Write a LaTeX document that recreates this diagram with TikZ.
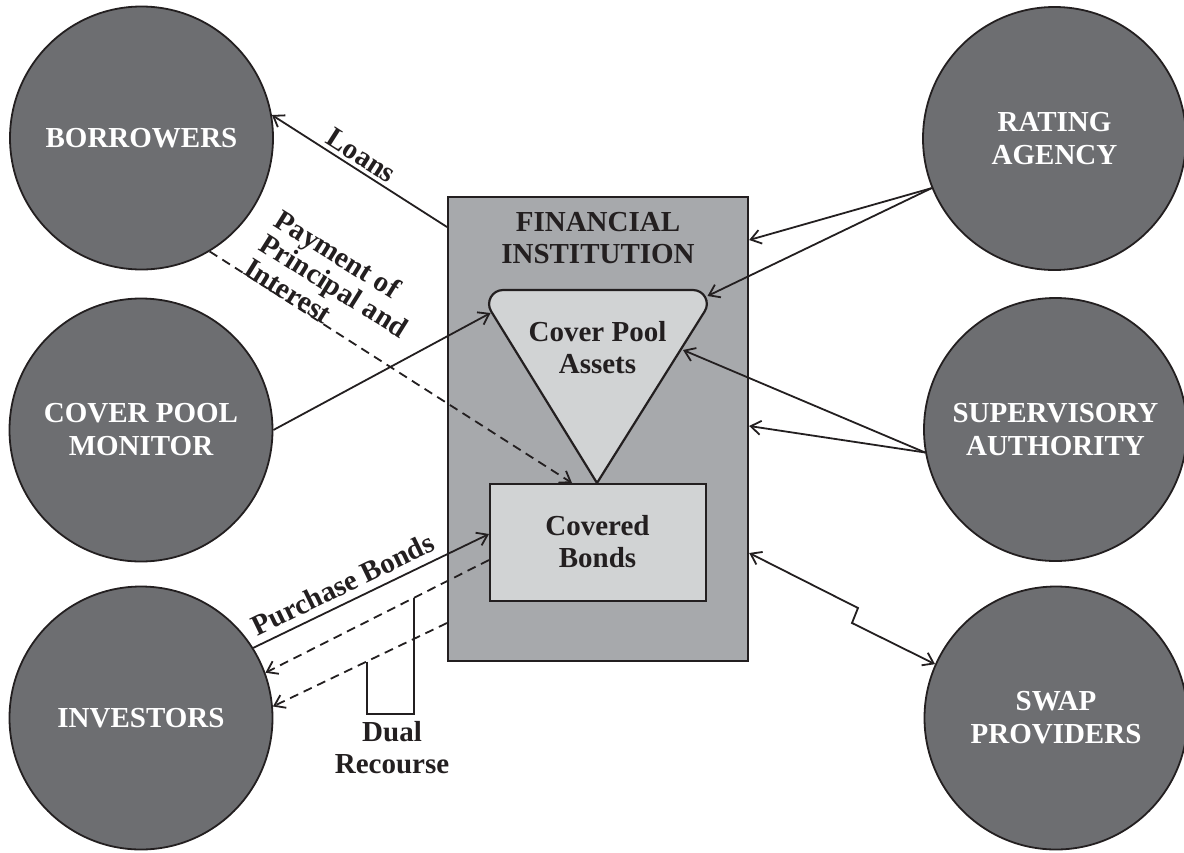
\documentclass[tikz,border=0pt]{standalone}
\usepackage{fontspec}
\setmainfont{Liberation Serif}
\usetikzlibrary{arrows.meta}
\definecolor{ink}{HTML}{231F20}
\definecolor{circfill}{HTML}{6D6E71}
\definecolor{fifill}{HTML}{A7A9AC}
\definecolor{innerfill}{HTML}{D1D3D4}
\begin{document}
\begin{tikzpicture}[x=1pt,y=-1pt,
  party/.style={circle, draw=ink, line width=1.8pt, fill=circfill, minimum size=263pt, inner sep=0pt,
    text=white, align=center, font=\fontsize{29}{33}\selectfont\bfseries},
  fibox/.style={draw=ink, line width=2.2pt, fill=fifill, inner sep=0pt, anchor=north west},
  cbbox/.style={draw=ink, line width=2.2pt, fill=innerfill, inner sep=0pt, anchor=north west},
  intext/.style={text=ink, inner sep=0pt, align=center, font=\fontsize{29}{32}\selectfont\bfseries},
  lbl/.style={text=ink, inner sep=0pt, font=\fontsize{29}{33}\selectfont\bfseries},
  conn/.style={draw=ink, line width=1.8pt},
  arrowed/.style={-{Straight Barb[length=10pt,width=14pt]}},
  twoarrowed/.style={{Straight Barb[length=10pt,width=14pt]}-{Straight Barb[length=10pt,width=14pt]}},
  dashline/.style={dash pattern=on 9pt off 6pt}
]
\useasboundingbox (0,0) rectangle (1184,852);
\fill[white] (0,0) rectangle (1184,852);

% outer parties
\node[party] (borrowers) at (141.5,138) {BORROWERS};
\node[party] (monitor) at (141,430) {COVER POOL\\MONITOR};
\node[party] (investors) at (141,718) {INVESTORS};
\node[party] (rating) at (1054.5,138.5) {RATING\\AGENCY};
\node[party] (supervisory) at (1055.5,429.5) {SUPERVISORY\\AUTHORITY};
\node[party] (swap) at (1056,718) {SWAP\\PROVIDERS};

% financial institution
\node[fibox, minimum width=300pt, minimum height=464pt] (fi) at (447,196) {};
\node[intext] (fititle) at (598,238.5) {FINANCIAL\\INSTITUTION};

% cover pool assets (inverted triangle with rounded top corners)
\coordinate (triApex) at (597,483);
\coordinate (triL1) at (491.2,311.4);
\coordinate (triL2) at (503.1,290);
\coordinate (triR1) at (692.9,290);
\coordinate (triR2) at (704.7,311.3);
\draw[draw=ink, line width=2.2pt, fill=innerfill]
  (triApex) -- (triL1) .. controls (485.4,302.0) and (492.1,290) .. (triL2)
  -- (triR1) .. controls (703.9,290) and (710.5,302.0) .. (triR2) -- cycle;
\node[intext] (cpa) at (597.5,348) {Cover Pool\\Assets};

% covered bonds
\node[cbbox, minimum width=216pt, minimum height=117pt] (cb) at (489,483) {};
\node[intext] (cbtext) at (597.5,542) {Covered\\Bonds};

% connector end points on boxes
\coordinate (loanS) at (fi.west |- 0,227);
\coordinate (payE) at (cb.north -| 572,0);
\coordinate (cpaL) at (490.5,313);
\coordinate (cpaTR) at (707.5,296);
\coordinate (cpaR) at (683,350);
\coordinate (fiR1) at (fi.east |- 0,240);
\coordinate (fiR2) at (fi.east |- 0,426);
\coordinate (fiR3) at (fi.east |- 0,553);
\coordinate (zz1) at (858,608);
\coordinate (zz2) at (852,623);
\coordinate (cbL1) at (cb.west |- 0,534);
\coordinate (cbL2) at (cb.west |- 0,560);
\coordinate (fiL2) at (fi.west |- 0,623);

% connectors
\draw[conn, arrowed] (loanS) -- (borrowers.10);
\draw[conn, dashline, arrowed] (borrowers.301) -- (payE);
\draw[conn, arrowed] (monitor.east) -- (cpaL);
\draw[conn, arrowed] (rating.202) -- (fiR1);
\draw[conn, arrowed] (rating.202) -- (cpaTR);
\draw[conn, arrowed] (supervisory.190) -- (cpaR);
\draw[conn, arrowed] (supervisory.190) -- (fiR2);
\draw[conn, twoarrowed] (fiR3) -- (zz1) -- (zz2) -- (swap.156);
\draw[conn, arrowed] (investors.32) -- (cbL1);
\draw[conn, dashline, arrowed] (cbL2) -- (investors.20.5);
\draw[conn, dashline, arrowed] (fiL2) -- (investors.5);

% dual recourse bracket
\coordinate (drA) at (367,661.5);
\coordinate (drB) at (414,597.5);
\draw[conn] (drA) -- (367,714) -- (414,714) -- (drB);

% labels
\node[lbl, rotate=-32.6] (loanslbl) at (361.5,155.5) {Loans};
\node[lbl, rotate=-32, anchor=south west, align=left, font=\fontsize{29}{28.7}\selectfont\bfseries]
  (paylbl) at (242,274) {Payment of\\Principal and\\Interest};
\node[lbl, rotate=25.9] (purchlbl) at (342.8,584.4) {Purchase Bonds};
\node[lbl, align=center, font=\fontsize{29}{31.5}\selectfont\bfseries] (duallbl) at (392,747.6) {Dual\\Recourse};
\end{tikzpicture}
\end{document}
